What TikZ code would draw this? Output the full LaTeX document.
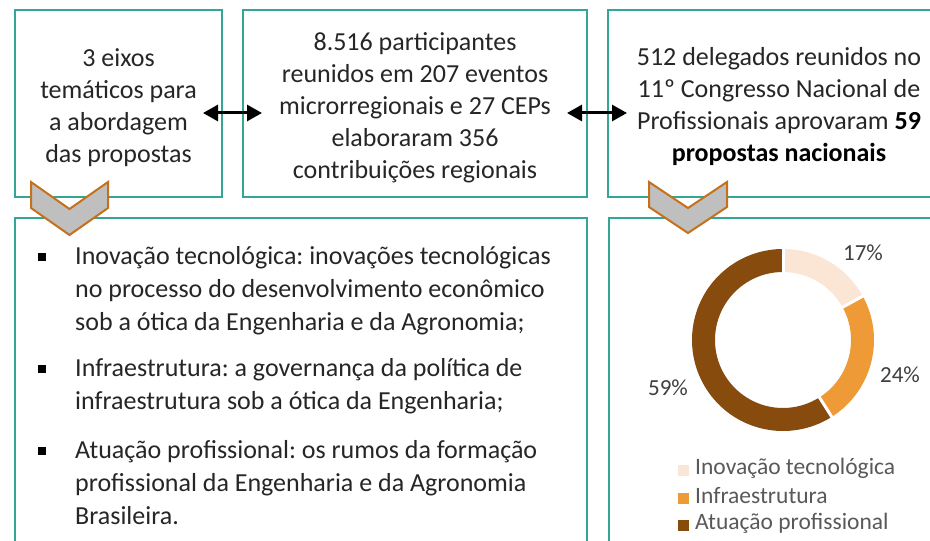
\documentclass[tikz,border=0pt]{standalone}
\usepackage{fontspec}
\setmainfont{Carlito}
\usetikzlibrary{arrows.meta,calc}
\definecolor{boxteal}{HTML}{35A596}
\definecolor{chevedge}{HTML}{C5701A}
\definecolor{chevfill}{HTML}{BFBFBF}
\definecolor{textdark}{HTML}{262626}
\definecolor{pielight}{HTML}{FBE6D5}
\definecolor{pieorange}{HTML}{EE9A37}
\definecolor{piebrown}{HTML}{864B0D}
\definecolor{legendgray}{HTML}{595959}
\definecolor{pctgray}{HTML}{404040}
\frenchspacing
\begin{document}
\begin{tikzpicture}[x=1bp,y=1bp]
\tikzset{
  panel/.style={draw=boxteal, line width=2.6bp, fill=white, inner sep=0pt, outer sep=0pt},
  boxtext/.style={font=\fontsize{26bp}{32bp}\selectfont, text=textdark, align=center},
  itemtext/.style={font=\fontsize{26bp}{33bp}\selectfont, text=textdark, align=left, inner sep=0pt, anchor=north west},
  bulletsq/.style={fill=black, minimum size=7.5bp, inner sep=0pt},
  chev/.style={draw=chevedge, fill=chevfill, line width=2bp, line join=miter},
  dblarrow/.style={{Triangle[length=15bp,width=16bp]}-{Triangle[length=15bp,width=16bp]}, line width=3bp, black},
  pct/.style={font=\fontsize{23bp}{26bp}\selectfont, text=pctgray},
  legtext/.style={font=\fontsize{23.5bp}{26bp}\selectfont, text=legendgray, anchor=west, inner sep=0pt},
  legsq/.style={minimum size=11bp, inner sep=0pt},
  sep/.style={white, line width=3bp}
}
\useasboundingbox (0,0) rectangle (930,-541);
\clip (0,0) rectangle (930,-541);

% top boxes
\node[panel, minimum width=207bp, minimum height=187bp] (b1) at (118.5,-103.5) {};
\node[boxtext] (b1t) at (118.5,-108)
  {3 eixos\\temáticos para\\a abordagem\\das propostas};
\node[panel, minimum width=344bp, minimum height=187bp] (b2) at (415,-103.5) {};
\node[boxtext] (b2t) at (415,-108)
  {8.516 participantes\\reunidos em 207 eventos\\microrregionais e 27 CEPs\\elaboraram 356\\contribuições regionais};
\node[panel, minimum width=342bp, minimum height=187bp] (b3) at (779,-103.5) {};
\node[boxtext] (b3t) at (779,-107)
  {512 delegados reunidos no\\11º Congresso Nacional de\\Profissionais aprovaram \textcolor{black}{\textbf{59}}\\\textcolor{black}{\textbf{propostas nacionais}}};

% bottom boxes
\node[panel, anchor=north west, minimum width=572bp, minimum height=360bp] (b4) at (15,-218) {};
\node[panel, anchor=north west, minimum width=345bp, minimum height=360bp] (b5) at (609,-218) {};

% bullet list
\node[bulletsq] (s1) at (42,-257) {};
\node[itemtext] (t1) at (75,-241)
  {\strut Inovação tecnológica: inovações tecnológicas\\no processo do desenvolvimento econômico\\sob a ótica da Engenharia e da Agronomia;};
\node[bulletsq] (s2) at (42,-369) {};
\node[itemtext] (t2) at (75,-353)
  {\strut Infraestrutura: a governança da política de\\infraestrutura sob a ótica da Engenharia;};
\node[bulletsq] (s3) at (42,-451) {};
\node[itemtext] (t3) at (75,-435)
  {\strut Atuação profissional: os rumos da formação\\profissional da Engenharia e da Agronomia\\Brasileira.};

% chevrons
\draw[chev] (31,-182) -- (69.5,-209) -- (108,-182) -- (108,-208) -- (69.5,-235) -- (31,-208) -- cycle;
\draw[chev] (649,-182) -- (688,-208) -- (727,-182) -- (727,-207) -- (688,-233) -- (649,-207) -- cycle;

% double arrows
\draw[dblarrow] ([shift={(-19,-9.5)}]b1.east) -- ([shift={(19,-9.5)}]b2.west);
\draw[dblarrow] ([shift={(-20,-9.5)}]b2.east) -- ([shift={(19,-9.5)}]b3.west);

% donut
\coordinate (dc) at (783,-340);
\fill[pielight] ($(dc)+(90:91)$) arc[start angle=90,end angle=28.8,radius=91]
  -- ($(dc)+(28.8:68)$) arc[start angle=28.8,end angle=90,radius=68] -- cycle;
\fill[pieorange] ($(dc)+(28.8:91)$) arc[start angle=28.8,end angle=-57.6,radius=91]
  -- ($(dc)+(-57.6:68)$) arc[start angle=-57.6,end angle=28.8,radius=68] -- cycle;
\fill[piebrown] ($(dc)+(-57.6:91)$) arc[start angle=-57.6,end angle=-270,radius=91]
  -- ($(dc)+(-270:68)$) arc[start angle=-270,end angle=-57.6,radius=68] -- cycle;
\draw[sep] ($(dc)+(90:66)$) -- ($(dc)+(90:93)$);
\draw[sep] ($(dc)+(28.8:66)$) -- ($(dc)+(28.8:93)$);
\draw[sep] ($(dc)+(-57.6:66)$) -- ($(dc)+(-57.6:93)$);

\node[pct] (p17) at (863,-253) {17\%};
\node[pct] (p24) at (900,-375) {24\%};
\node[pct] (p59) at (668,-388) {59\%};

% legend
\node[legsq, fill=pielight] (l1) at (683,-470) {};
\node[legtext] (lt1) at (695,-468) {Inovação tecnológica};
\node[legsq, fill=pieorange] (l2) at (683,-498) {};
\node[legtext] (lt2) at (695,-496) {Infraestrutura};
\node[legsq, fill=piebrown] (l3) at (683,-525) {};
\node[legtext] (lt3) at (695,-523) {Atuação profissional};
\end{tikzpicture}
\end{document}
